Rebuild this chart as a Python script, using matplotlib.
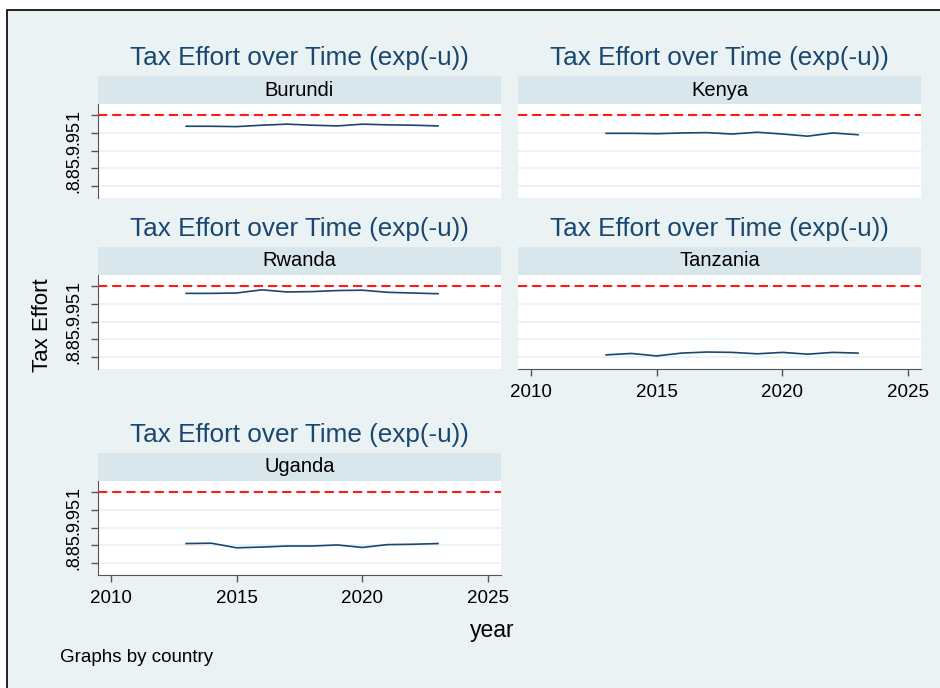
import numpy as np
import matplotlib.pyplot as plt
from matplotlib.patches import Rectangle

plt.rcParams['font.family'] = ['Liberation Sans', 'DejaVu Sans']

# values
years = [2013, 2014, 2015, 2016, 2017, 2018, 2019, 2020, 2021, 2022, 2023]
burundi = [0.969, 0.969, 0.968, 0.972, 0.975, 0.972, 0.970, 0.975, 0.973, 0.972, 0.970]
kenya = [0.949, 0.949, 0.948, 0.950, 0.951, 0.947, 0.952, 0.947, 0.941, 0.950, 0.945]
rwanda = [0.980, 0.980, 0.981, 0.990, 0.984, 0.985, 0.988, 0.989, 0.983, 0.981, 0.979]
tanzania = [0.806, 0.810, 0.803, 0.811, 0.814, 0.813, 0.809, 0.813, 0.808, 0.813, 0.811]
uganda = [0.855, 0.856, 0.843, 0.845, 0.848, 0.848, 0.851, 0.844, 0.852, 0.853, 0.855]

countries = ["Burundi", "Kenya", "Rwanda", "Tanzania", "Uganda"]
series = [burundi, kenya, rwanda, tanzania, uganda]
yticks = [0.8, 0.85, 0.9, 0.95, 1.0]
ytick_labels = [".8", ".85", ".9", ".95", "1"]
xticks = [2010, 2015, 2020, 2025]
ref_level = 1.0

W, H = 940, 688
bg = "#EAF2F3"
header_c = "#D9E6EB"
navy = "#1A476F"
axis_c = "#555555"


def box(x0, y0, x1, y1):
    return [x0 / W, 1 - y1 / H, (x1 - x0) / W, (y1 - y0) / H]


fig = plt.figure(figsize=(9.4, 6.88), dpi=100)
fig.patch.set_facecolor("white")
fig.add_artist(Rectangle((7 / W, -0.05), 1.2, 1.05 - 10 / H, transform=fig.transFigure,
                         facecolor=bg, edgecolor="black", lw=1.2, zorder=-10))

cols = [(98, 501), (518, 921)]
rows = [(104, 198), (275, 369), (481, 575)]
bottom_panels = ["Tanzania", "Uganda"]

for i, (name, vals) in enumerate(zip(countries, series)):
    r, c = divmod(i, 2)
    x0, x1 = cols[c]
    y0, y1 = rows[r]
    ax = fig.add_axes(box(x0, y0, x1, y1))
    ax.set_facecolor("white")
    ax.axhline(ref_level, color="#FF1A1A", lw=1.5, dashes=(4.4, 2.4), zorder=3)
    ax.plot(years, vals, color=navy, lw=1.2, zorder=4)
    ax.set_xlim(2009.5, 2025.5)
    ax.set_ylim(0.766, 1.032)
    ax.set_yticks(yticks)
    ax.yaxis.grid(True, color=bg, lw=1.3)
    ax.set_axisbelow(True)
    for s in ["top", "right"]:
        ax.spines[s].set_visible(False)
    ax.spines["left"].set_visible(c == 0)
    ax.spines["left"].set_color(axis_c)
    ax.spines["bottom"].set_visible(name in bottom_panels)
    ax.spines["bottom"].set_color(axis_c)
    if c == 0:
        ax.set_yticklabels(ytick_labels, rotation=90, va="center", fontsize=13)
        ax.tick_params(axis="y", length=5, width=1, color=axis_c, pad=6)
    else:
        ax.tick_params(axis="y", left=False, labelleft=False)
    if name in bottom_panels:
        ax.set_xticks(xticks)
        ax.tick_params(axis="x", length=5, width=1, color=axis_c, pad=6, labelsize=13.5)
    else:
        ax.tick_params(axis="x", bottom=False, labelbottom=False)

    # strip header and title
    fig.add_artist(Rectangle((x0 / W, 1 - y0 / H), (x1 - x0) / W, 28 / H,
                             transform=fig.transFigure, facecolor=header_c, edgecolor="none"))
    fig.text((x0 + x1) / 2 / W, 1 - (y0 - 14) / H, name, ha="center", va="center",
             fontsize=14.5, color="black")
    fig.text((x0 + x1) / 2 / W, 1 - (y0 - 39) / H, "Tax Effort over Time (exp(-u))",
             ha="center", va="baseline", fontsize=18.8, color=navy)

fig.text(42 / W, 1 - 325 / H, "Tax Effort", rotation=90, ha="center", va="center", fontsize=16)
fig.text(492 / W, 1 - 630 / H, "year", ha="center", va="center", fontsize=16.5)
fig.text(60 / W, 1 - 657 / H, "Graphs by country", ha="left", va="center", fontsize=13.5)

fig.savefig("out.png", dpi=100, facecolor=fig.get_facecolor())
